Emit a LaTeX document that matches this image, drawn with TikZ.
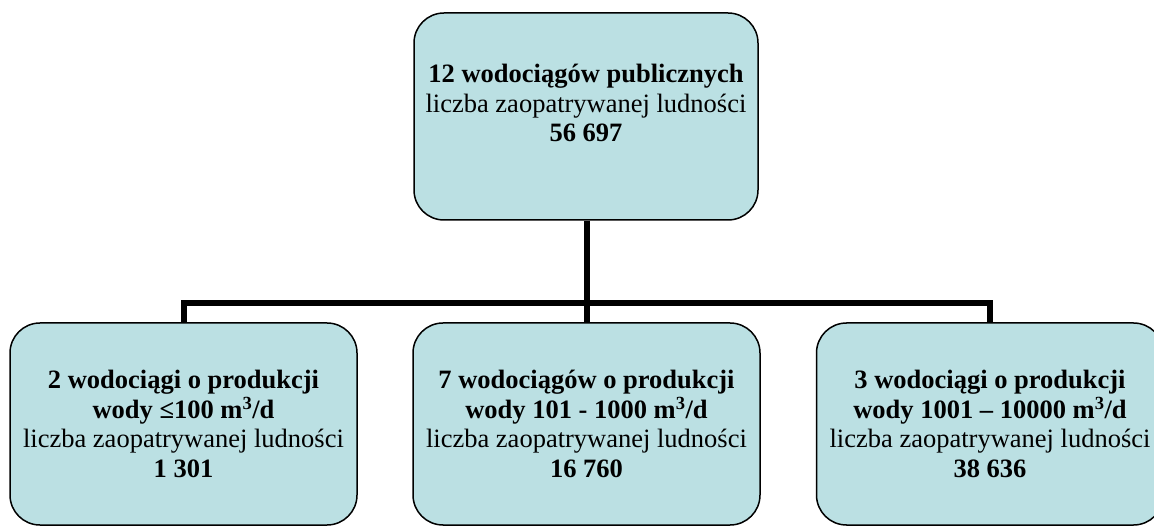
\documentclass[tikz,border=0pt]{standalone}
\usepackage{fontspec}
\setmainfont{Liberation Serif}
\definecolor{boxblue}{RGB}{187,224,227}
\begin{document}
\begin{tikzpicture}[x=1pt,y=-1pt,
  txt/.style={align=center,inner sep=0pt,font=\fontsize{26.5}{29.5}\selectfont},
  box/.style={txt,draw=black,line width=1.5pt,fill=boxblue,rounded corners=30pt,
    minimum width=347pt,minimum height=202pt},
  wire/.style={line width=6pt}]
\clip (0,0) rectangle (1154,526);

% top
\node[box,minimum width=344pt,minimum height=207pt] (top) at (586,116.5) {};
\node[txt] (toptext) at (586,103) {\textbf{12 wodociągów publicznych}\\
  liczba zaopatrywanej ludności\\ \textbf{56 697}};

% bottom row
\node[box] (left) at (183.5,424) {\textbf{2 wodociągi o produkcji}\\
  \textbf{wody ≤100 m\textsuperscript{3}/d}\\ liczba zaopatrywanej ludności\\ \textbf{1 301}};
\node[box] (mid) at (586.5,424) {\textbf{7 wodociągów o produkcji}\\
  \textbf{wody 101 - 1000 m\textsuperscript{3}/d}\\ liczba zaopatrywanej ludności\\ \textbf{16 760}};
\node[box] (right) at (990,424) {\textbf{3 wodociągi o produkcji}\\
  \textbf{wody 1001 – 10000 m\textsuperscript{3}/d}\\ liczba zaopatrywanej ludności\\ \textbf{38 636}};

% wires
\coordinate (bus) at (587,303);
\draw[wire] (top.south -| bus) -- (bus);
\draw[wire] (left.north) -- (left.north |- bus) -- (right.north |- bus) -- (right.north);
\draw[wire] (mid.north -| bus) -- (bus);
\end{tikzpicture}
\end{document}
